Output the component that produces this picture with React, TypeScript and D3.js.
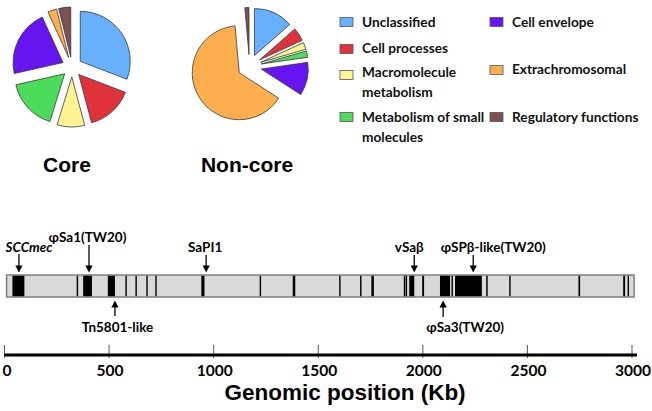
import React from 'react';
import * as d3 from 'd3';

// ---------- data ----------
const legendLines: string[][] = [
  ['Unclassified'],
  ['Cell processes'],
  ['Macromolecule', 'metabolism'],
  ['Metabolism of small', 'molecules'],
  ['Cell envelope'],
  ['Extrachromosomal'],
  ['Regulatory functions'],
];
const categories = legendLines.map((l) => l.join(' '));
const categoryColors = ['#66b0ff', '#e0323a', '#fff494', '#4cdc5b', '#6614f0', '#fdae4f', '#7d5052'];

const coreValues = [30.8, 15.0, 8.9, 16.7, 21.7, 2.9, 3.9];
const nonCoreValues = [13.5, 4.6, 2.4, 2.2, 11.4, 64.4, 1.4];
const pieTitles = ['Core', 'Non-core'];

const genomeStartKb = 10;
const genomeEndKb = 3010;
const islandBands: [number, number][] = [
  [38, 95], [345, 352], [376, 418], [494, 528], [578, 584], [626, 632], [678, 684], [721, 727],
  [941, 956], [1220, 1225], [1378, 1390], [1600, 1606], [1700, 1704], [1754, 1766], [1909, 1913],
  [1918, 1922], [1935, 1959], [1997, 2006], [2082, 2130], [2137, 2141], [2154, 2282], [2303, 2310],
  [2413, 2417], [2744, 2752], [2958, 2967], [2979, 2983],
];

const annotationLabels = ['SCCmec', 'φSa1(TW20)', 'Tn5801-like', 'SaPI1', 'vSaβ', 'φSPβ-like(TW20)', 'φSa3(TW20)'];
const annotationKb = [69, 404, 528, 964, 1959, 2241, 2097];
const annotationSide = ['top', 'top', 'bottom', 'top', 'top', 'top', 'bottom'];

const axisTicks = [0, 500, 1000, 1500, 2000, 2500, 3000];
const axisTitle = 'Genomic position (Kb)';

// ---------- layout ----------
const W = 652;
const H = 411;
const lblFont = 'Lato, "Liberation Sans", Arial, sans-serif';
const titleFont = '"Liberation Sans", Arial, sans-serif';

const pieLayout = [
  { cx: 72, cy: 67, r: 50, d: 10, tx: 67 },
  { cx: 249.5, cy: 66.5, r: 47, d: 12, tx: 247 },
];

const legendPos = [
  { bx: 340, by: 22, tx: 362, ty: 22 },
  { bx: 340, by: 49, tx: 362, ty: 48 },
  { bx: 340, by: 75, tx: 362, ty: 72 },
  { bx: 340, by: 117, tx: 362, ty: 117 },
  { bx: 490, by: 22, tx: 512, ty: 22 },
  { bx: 490, by: 70, tx: 512, ty: 69 },
  { bx: 490, by: 117, tx: 512, ty: 117 },
];

const annLayout = [
  { dx: 10, base: 251.5, start: 254, italic: true },
  { dx: -1.5, base: 241.5, start: 245, italic: false },
  { dx: 2.5, base: 332, start: 316, italic: false },
  { dx: -1, base: 252, start: 255, italic: false },
  { dx: -5, base: 252, start: 255, italic: false },
  { dx: 20, base: 252, start: 255, italic: false },
  { dx: 22, base: 332, start: 317, italic: false },
];

const barTop = 275;
const barBottom = 297;
const axisY = 355;

const x = d3.scaleLinear().domain([0, 3000]).range([4.5, 632]);

function Pie({ values, cx, cy, r, d }: { values: number[]; cx: number; cy: number; r: number; d: number }) {
  const arcs = d3.pie<number>().sort(null).value((v) => v)(values);
  const arc = d3.arc<d3.PieArcDatum<number>>().innerRadius(0).outerRadius(r);
  return (
    <g transform={`translate(${cx},${cy})`}>
      {arcs.map((a, i) => {
        const mid = (a.startAngle + a.endAngle) / 2;
        const dx = Math.sin(mid) * d;
        const dy = -Math.cos(mid) * d;
        return (
          <path
            key={i}
            d={arc(a) || ''}
            transform={`translate(${dx},${dy})`}
            fill={categoryColors[i]}
            stroke="#3a3a3a"
            strokeWidth={0.8}
            strokeLinejoin="round"
          />
        );
      })}
    </g>
  );
}

function Arrow({ ax, from, tip }: { ax: number; from: number; tip: number }) {
  const dir = tip > from ? 1 : -1;
  const headLen = 7;
  const hw = 3.6;
  const baseY = tip - dir * headLen;
  return (
    <g>
      <line x1={ax} x2={ax} y1={from} y2={baseY + dir * 1} stroke="#000" strokeWidth={1.3} />
      <path d={`M${ax - hw},${baseY}L${ax + hw},${baseY}L${ax},${tip}Z`} fill="#000" />
    </g>
  );
}

export default function App() {
  const pieData = [coreValues, nonCoreValues];
  return (
    <svg
      width={W}
      height={H}
      viewBox={`0 0 ${W} ${H}`}
      style={{ position: 'absolute', left: 0, top: 0, display: 'block', background: '#fff' }}
    >
      <rect width={W} height={H} fill="#fff" />
      {/* pies */}
      {pieData.map((vals, i) => (
        <g key={i}>
          <Pie values={vals} cx={pieLayout[i].cx} cy={pieLayout[i].cy} r={pieLayout[i].r} d={pieLayout[i].d} />
          <text
            x={pieLayout[i].tx}
            y={172}
            textAnchor="middle"
            fontFamily={titleFont}
            fontWeight="bold"
            fontSize={21}
            fill="#000"
          >
            {pieTitles[i]}
          </text>
        </g>
      ))}

      {/* legend */}
      {categories.map((c, i) => {
        const p = legendPos[i];
        return (
          <g key={c}>
            <rect x={p.bx} y={p.by - 4.5} width={13} height={9} fill={categoryColors[i]} stroke="#555" strokeWidth={0.8} />
            {legendLines[i].map((line, j) => (
              <text
                key={j}
                x={p.tx}
                y={p.ty + j * 20 + 5}
                fontFamily={lblFont}
                fontWeight="bold"
                fontSize={13.7}
                fill="#111"
              >
                {line}
              </text>
            ))}
          </g>
        );
      })}

      {/* genome bar */}
      <rect
        x={x(genomeStartKb)}
        y={barTop}
        width={x(genomeEndKb) - x(genomeStartKb)}
        height={barBottom - barTop}
        fill="#d9d9d9"
        stroke="#7f7f7f"
        strokeWidth={1.5}
      />
      {islandBands.map(([s, e], i) => (
        <rect
          key={i}
          x={x(s)}
          y={barTop + 0.75}
          width={Math.max(x(e) - x(s), 1.4)}
          height={barBottom - barTop - 1.5}
          fill="#000"
        />
      ))}

      {/* annotations */}
      {annotationLabels.map((lab, i) => {
        const ax = x(annotationKb[i]);
        const L = annLayout[i];
        const tip = annotationSide[i] === 'top' ? barTop - 2.5 : barBottom + 3.5;
        return (
          <g key={lab}>
            <Arrow ax={ax} from={L.start} tip={tip} />
            <text
              x={ax + L.dx}
              y={L.base}
              textAnchor="middle"
              fontFamily={lblFont}
              fontWeight="bold"
              fontStyle={L.italic ? 'italic' : 'normal'}
              fontSize={13.5}
              fill="#000"
            >
              {lab}
            </text>
          </g>
        );
      })}

      {/* axis */}
      {axisTicks.map((t) => (
        <g key={t}>
          <line x1={x(t)} x2={x(t)} y1={345} y2={358} stroke="#555" strokeWidth={1} />
          <text
            x={x(t) + (t === 0 ? 2.5 : 1)}
            y={376}
            textAnchor="middle"
            fontFamily={lblFont}
            fontWeight="bold"
            fontSize={15.5}
            fill="#000"
          >
            {t}
          </text>
        </g>
      ))}
      <line x1={x(0)} x2={x(3000) + 5} y1={axisY} y2={axisY} stroke="#000" strokeWidth={3} />
      <text
        x={345}
        y={400}
        textAnchor="middle"
        fontFamily={titleFont}
        fontWeight="bold"
        fontSize={22.5}
        fill="#000"
      >
        {axisTitle}
      </text>
    </svg>
  );
}
